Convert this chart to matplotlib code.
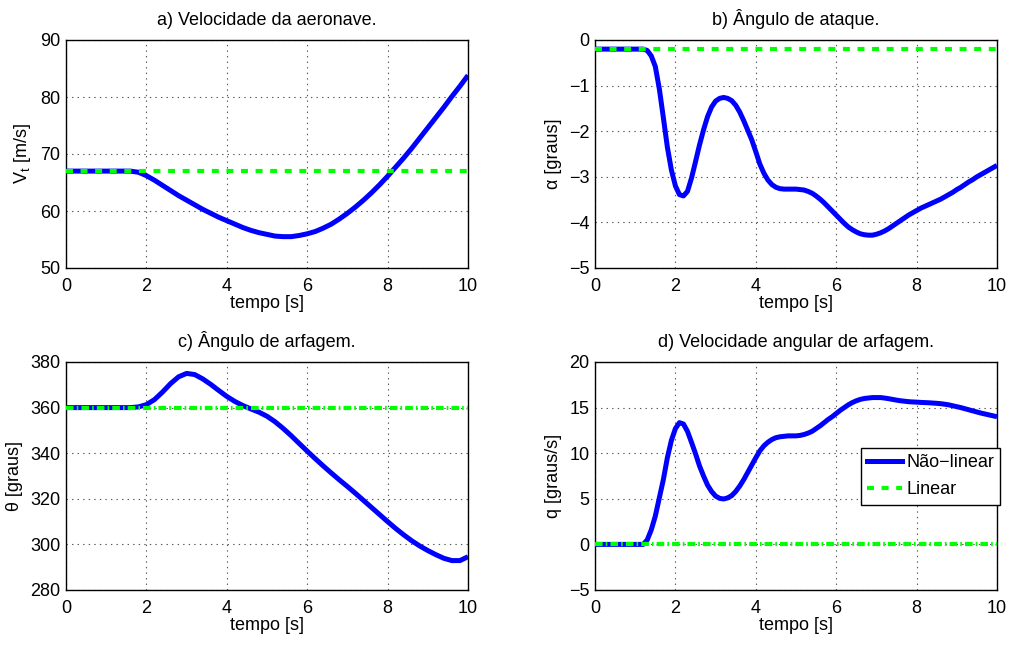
import numpy as np
import matplotlib
matplotlib.use("Agg")
import matplotlib.pyplot as plt
from matplotlib.lines import Line2D

plt.rcParams['font.family'] = ['Liberation Sans', 'DejaVu Sans']
plt.rcParams['mathtext.fontset'] = 'custom'
plt.rcParams['mathtext.rm'] = 'Liberation Sans'
plt.rcParams['mathtext.it'] = 'Liberation Sans:italic'
plt.rcParams['lines.scale_dashes'] = False

# a) airspeed, sampled every 0.2 s
vt_nl = [67.0, 67.0, 67.0, 67.0, 67.0,
         67.0, 67.0, 67.0, 67.0, 66.8,
         66.2, 65.4, 64.5, 63.6, 62.7,
         61.9, 61.1, 60.3, 59.6, 58.9,
         58.3, 57.7, 57.1, 56.6, 56.2,
         55.9, 55.6, 55.5, 55.5, 55.7,
         56.0, 56.4, 57.0, 57.7, 58.6,
         59.6, 60.7, 61.9, 63.2, 64.6,
         66.1, 67.7, 69.3, 71.0, 72.8,
         74.6, 76.4, 78.2, 80.1, 81.9,
         83.8]
vt_lin = 67.0

# b) angle of attack, sampled every 0.1 s
alpha_nl = [-0.2, -0.2, -0.2, -0.2, -0.2, -0.2, -0.2, -0.2, -0.2, -0.2,
            -0.2, -0.2, -0.2, -0.23, -0.35, -0.58, -1.07, -1.7, -2.35, -2.85,
            -3.2, -3.39, -3.42, -3.32, -3.03, -2.67, -2.3, -1.97, -1.68, -1.47,
            -1.34, -1.28, -1.26, -1.28, -1.33, -1.43, -1.58, -1.77, -1.98, -2.19,
            -2.45, -2.72, -2.92, -3.07, -3.17, -3.23, -3.26, -3.27, -3.27, -3.27,
            -3.27, -3.28, -3.29, -3.32, -3.36, -3.42, -3.49, -3.57, -3.66, -3.75,
            -3.84, -3.93, -4.02, -4.1, -4.16, -4.21, -4.25, -4.27, -4.28, -4.28,
            -4.26, -4.23, -4.19, -4.14, -4.08, -4.02, -3.96, -3.9, -3.84, -3.79,
            -3.74, -3.69, -3.65, -3.61, -3.57, -3.53, -3.49, -3.44, -3.39, -3.34,
            -3.28, -3.23, -3.17, -3.11, -3.06, -3.0, -2.95, -2.9, -2.85, -2.8,
            -2.75]
alpha_lin = -0.2

# c) pitch angle, sampled every 0.2 s
theta_nl = [360.0, 360.0, 360.0, 360.0, 360.0,
            360.0, 360.0, 360.0, 360.0, 360.3,
            361.3, 363.5, 366.8, 370.5, 373.5,
            375.0, 374.5, 372.6, 370.2, 367.5,
            364.9, 362.7, 360.9, 359.4, 358.0,
            356.2, 353.8, 350.9, 347.7, 344.3,
            340.9, 337.6, 334.4, 331.3, 328.3,
            325.4, 322.4, 319.3, 316.2, 313.1,
            310.0, 307.0, 304.2, 301.6, 299.3,
            297.3, 295.5, 293.9, 292.9, 292.9,
            294.6]
theta_lin = 360.0

# d) pitch rate, sampled every 0.1 s
q_nl = [0, 0, 0, 0, 0, 0, 0, 0, 0, 0,
        0, 0, 0, 0.5, 1.6, 3.1, 5.1, 7.1, 9.5, 11.4,
        12.7, 13.35, 13.2, 12.4, 11.2, 9.95, 8.6, 7.5, 6.5, 5.8,
        5.3, 5.05, 4.98, 5.1, 5.35, 5.8, 6.4, 7.1, 7.9, 8.7,
        9.5, 10.25, 10.8, 11.2, 11.5, 11.7, 11.8, 11.85, 11.9, 11.9,
        11.9, 11.95, 12.05, 12.2, 12.4, 12.7, 13.0, 13.35, 13.7, 14.0,
        14.35, 14.7, 15.0, 15.3, 15.55, 15.75, 15.9, 16.0, 16.05, 16.1,
        16.1, 16.1, 16.05, 15.98, 15.9, 15.82, 15.75, 15.7, 15.65, 15.62,
        15.6, 15.57, 15.55, 15.53, 15.5, 15.47, 15.43, 15.37, 15.3, 15.2,
        15.1, 15.0, 14.88, 14.76, 14.64, 14.52, 14.4, 14.3, 14.2, 14.1,
        14.0]
q_lin = 0.0

titles = ['a) Velocidade da aeronave.', 'b) Ângulo de ataque.',
          'c) Ângulo de arfagem.', 'd) Velocidade angular de arfagem.']
ylabels = ['V$_\\mathrm{t}$ [m/s]', 'α [graus]', 'θ [graus]', 'q [graus/s]']
ylims = [(50, 90), (-5, 0), (280, 380), (-5, 20)]
ysteps = [10, 1, 20, 5]

series = [vt_nl, alpha_nl, theta_nl, q_nl]
linear = [vt_lin, alpha_lin, theta_lin, q_lin]
lin_dash = [(5, 5.5), (5, 5.5), (5.5, 2.2, 1.2, 2.2), (5.5, 2.2, 1.2, 2.2)]

W, H = 1011, 646
boxes = [(66, 40), (595, 40), (66, 362), (595, 362)]
aw, ah = 402, 228

fig = plt.figure(figsize=(W / 100, H / 100), dpi=100)
FS = 13
axes = []
for i in range(4):
    x0, y0 = boxes[i]
    ax = fig.add_axes([x0 / W, 1 - (y0 + ah) / H, aw / W, ah / H])
    axes.append(ax)
    y = np.array(series[i])
    t = np.linspace(0, 10, len(y))
    ax.plot(t, y, color=(0, 0, 1), lw=3.6, solid_capstyle='butt', zorder=3)
    ax.plot([0, 10], [linear[i], linear[i]], color=(0, 1, 0), lw=3.0,
            dashes=lin_dash[i], zorder=4)
    ax.set_xlim(0, 10)
    ax.set_ylim(*ylims[i])
    ax.set_xticks(np.arange(0, 11, 2))
    lo, hi = ylims[i]
    ax.set_yticks(np.arange(lo, hi + ysteps[i] / 2, ysteps[i]))
    ax.grid(True, linestyle=(0, (1, 3)), color='0.35', linewidth=0.8, zorder=0)
    ax.tick_params(length=0, labelsize=FS, pad=4)
    ax.tick_params(axis='x', pad=7)
    for s in ax.spines.values():
        s.set_linewidth(1.0)
    ax.set_title(titles[i], fontsize=FS, pad=11)
    ax.set_xlabel('tempo [s]', fontsize=FS, labelpad=0)
    ax.set_ylabel(ylabels[i], fontsize=FS, labelpad=5)

handles = [Line2D([], [], color=(0, 0, 1), lw=3.6),
           Line2D([], [], color=(0, 1, 0), lw=3.0, dashes=(5, 5.5))]
leg = axes[3].legend(handles, ['Não−linear', 'Linear'], loc='upper left',
                     bbox_to_anchor=(0.662, 0.623), borderaxespad=0,
                     fontsize=FS, fancybox=False, framealpha=1,
                     edgecolor='black', handlelength=1.9, handletextpad=0.25,
                     labelspacing=0.55, borderpad=0.35)
leg.get_frame().set_linewidth(1.0)

fig.savefig('out.png', dpi=100)
